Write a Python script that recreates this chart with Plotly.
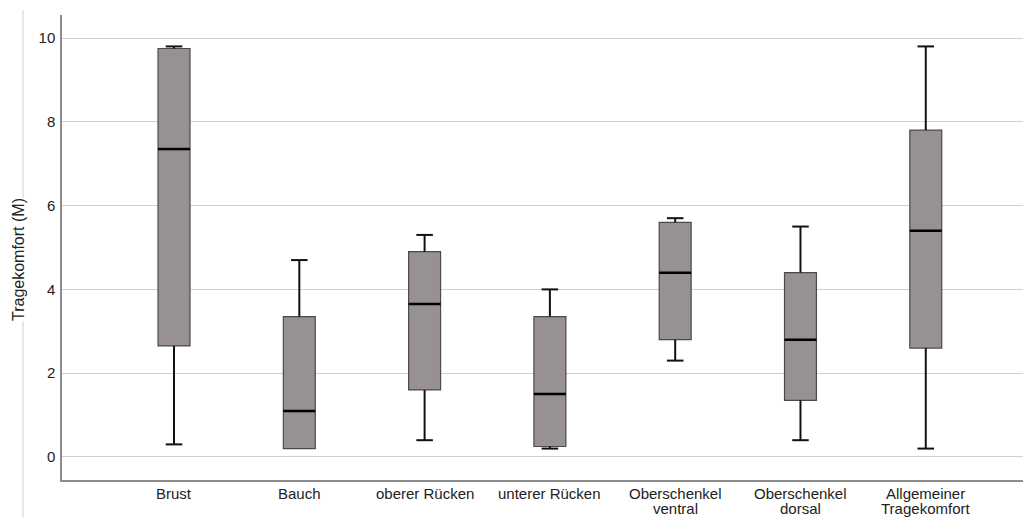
import plotly.graph_objects as go

categories = ["Brust", "Bauch", "oberer Rücken", "unterer Rücken",
              "Oberschenkel<br>ventral", "Oberschenkel<br>dorsal",
              "Allgemeiner<br>Tragekomfort"]
lower = [0.3, 0.2, 0.4, 0.2, 2.3, 0.4, 0.2]
q1 = [2.65, 0.2, 1.6, 0.25, 2.8, 1.35, 2.6]
median = [7.35, 1.1, 3.65, 1.5, 4.4, 2.8, 5.4]
q3 = [9.75, 3.35, 4.9, 3.35, 5.6, 4.4, 7.8]
upper = [9.8, 4.7, 5.3, 4.0, 5.7, 5.5, 9.8]
y_ticks = [0, 2, 4, 6, 8, 10]

pos = list(range(len(categories)))
BOX_W = 0.255
CAP_HALF = 0.066

fig = go.Figure()

fig.add_trace(go.Box(
    x=pos, q1=q1, median=median, q3=q3, lowerfence=q1, upperfence=q3,
    width=BOX_W, fillcolor="#979191",
    line=dict(color="#4a4a4a", width=1.2),
    boxpoints=False, hoverinfo="skip", showlegend=False,
))

# whiskers and caps
wx, wy = [], []
for i, lo, a, b, hi in zip(pos, lower, q1, q3, upper):
    if a > lo:
        wx += [i, i, None, i - CAP_HALF, i + CAP_HALF, None]
        wy += [a, lo, None, lo, lo, None]
    if hi > b:
        wx += [i, i, None, i - CAP_HALF, i + CAP_HALF, None]
        wy += [b, hi, None, hi, hi, None]
fig.add_trace(go.Scatter(x=wx, y=wy, mode="lines",
                         line=dict(color="#111111", width=2),
                         hoverinfo="skip", showlegend=False))

# medians
mx, my = [], []
for i, m in zip(pos, median):
    mx += [i - BOX_W / 2, i + BOX_W / 2, None]
    my += [m, m, None]
fig.add_trace(go.Scatter(x=mx, y=my, mode="lines",
                         line=dict(color="#000000", width=2.5),
                         hoverinfo="skip", showlegend=False))

W, H = 1023, 517
L, T = 62, 15
ph = 465
B = H - T - ph
R = 0
pw = W - L - R
def py(screen_y):
    return (T + ph - screen_y) / ph
def px(screen_x):
    return (screen_x - L) / pw

annotations = [dict(text="Tragekomfort (M)", xref="paper", yref="paper",
                    x=px(18), y=py(260), textangle=-90,
                    showarrow=False, xanchor="center", yanchor="middle",
                    bgcolor="white", borderpad=0,
                    font=dict(size=16, color="#222222"))]
for i, lab in zip(pos, categories):
    for k, line in enumerate(lab.split("<br>")):
        annotations.append(dict(text=line, xref="x", yref="paper", x=i,
                                y=py(493 + 15 * k), showarrow=False,
                                xanchor="center", yanchor="middle",
                                font=dict(size=15, color="#222222")))

fig.update_layout(
    width=W, height=H,
    margin=dict(l=L, r=R, t=T, b=B),
    paper_bgcolor="white", plot_bgcolor="white",
    font=dict(family="Liberation Sans, Arial, sans-serif", size=15, color="#222222"),
    xaxis=dict(
        range=[-0.894, 6.776], tickmode="array", tickvals=pos, showticklabels=False,
        showgrid=False, zeroline=False, showline=True, linecolor="#8c8c8c", linewidth=1.5,
        ticks="",
    ),
    yaxis=dict(
        range=[-0.55, 10.55], tickmode="array", tickvals=y_ticks,
        showgrid=True, gridcolor="#d0d0d0", gridwidth=1.3, zeroline=False,
        showline=True, linecolor="#8c8c8c", linewidth=1.5,
        ticks="", tickfont=dict(size=15, color="#222222"), ticklabelstandoff=2,
    ),
    shapes=[dict(type="line", xref="paper", yref="paper",
                 x0=px(23), x1=px(23), y0=py(10), y1=py(517),
                 line=dict(color="#cfcfcf", width=1), layer="below")],
    annotations=annotations,
)

fig.write_html(
    "out.html",
    config={"displayModeBar": False},
    post_script="document.documentElement.style.overflow='hidden';"
                "document.body.style.margin='0';document.body.style.overflow='hidden';",
)
